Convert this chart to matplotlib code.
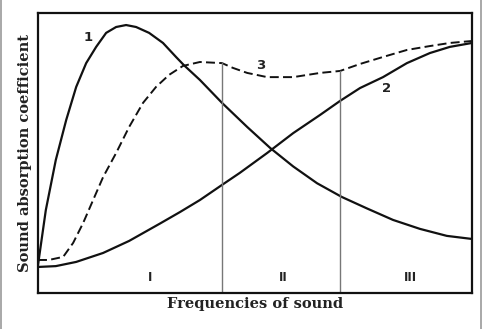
import numpy as np
import matplotlib.pyplot as plt
from matplotlib.lines import Line2D

# frequency axis is arbitrary (0..10), absorption coefficient 0..1
freq_1 = [0, 0.18, 0.41, 0.65, 0.88, 1.11, 1.34, 1.57, 1.80, 2.03, 2.26, 2.56, 2.88, 3.18,
          3.36, 3.73, 4.24, 4.82, 5.35, 5.88, 6.43, 7.00, 7.58, 8.18, 8.80, 9.42, 10]
alpha_1 = [0.10, 0.296, 0.475, 0.618, 0.736, 0.821, 0.879, 0.929, 0.95, 0.957, 0.95, 0.929, 0.893, 0.843,
           0.814, 0.761, 0.679, 0.593, 0.518, 0.452, 0.392, 0.343, 0.302, 0.261, 0.229, 0.204, 0.193]

freq_2 = [0, 0.41, 0.88, 1.50, 2.10, 2.81, 3.27, 3.73, 4.24, 4.65, 5.28, 5.88, 6.50, 6.96,
          7.42, 7.95, 8.50, 9.03, 9.49, 10]
alpha_2 = [0.093, 0.096, 0.111, 0.143, 0.186, 0.248, 0.289, 0.332, 0.386, 0.429, 0.50, 0.571, 0.636, 0.686,
           0.732, 0.771, 0.821, 0.857, 0.879, 0.893]

freq_3 = [0, 0.25, 0.58, 0.81, 1.04, 1.27, 1.50, 1.80, 2.10, 2.42, 2.72, 3.02, 3.34, 3.73,
          4.24, 4.49, 4.82, 5.28, 5.88, 6.50, 6.96, 7.42, 7.95, 8.50, 9.03, 9.49, 10]
alpha_3 = [0.118, 0.118, 0.129, 0.179, 0.25, 0.332, 0.414, 0.50, 0.593, 0.679, 0.736, 0.779, 0.811, 0.825,
           0.821, 0.804, 0.786, 0.771, 0.771, 0.786, 0.793, 0.818, 0.843, 0.868, 0.882, 0.893, 0.90]

# region borders (frequency, top of the line on curve 3)
border_freq = [4.24, 6.96]
border_top = [0.821, 0.793]

region_labels = ["I", "II", "III"]
region_pos = [2.58, 5.65, 8.57]

curve_labels = ["1", "2", "3"]
curve_label_pos = [(1.15, 0.914), (8.04, 0.732), (5.12, 0.814)]

plt.rcParams['font.family'] = ['DejaVu Serif']

fig = plt.figure(figsize=(4.83, 3.29), dpi=100)
ax = fig.add_axes([38 / 483, 36 / 329, 434 / 483, 280 / 329])

ax.plot(freq_1, alpha_1, color="#111111", lw=1.6, solid_joinstyle="round")
ax.plot(freq_2, alpha_2, color="#111111", lw=1.6, solid_joinstyle="round")
ax.plot(freq_3, alpha_3, color="#111111", lw=1.4, dashes=(4.6, 2.2))

for x, top in zip(border_freq, border_top):
    ax.plot([x, x], [0, top], color="#777777", lw=1.0)

for lab, x in zip(region_labels, region_pos):
    ax.text(x, 0.054, lab, ha="center", va="center", fontsize=8.5,
            fontweight="bold", family="DejaVu Sans", color="#222222")

for lab, (x, y) in zip(curve_labels, curve_label_pos):
    ax.text(x, y, lab, ha="center", va="center", fontsize=9.5,
            fontweight="bold", family="DejaVu Sans", color="#222222")

ax.set_xlim(0, 10)
ax.set_ylim(0, 1)
ax.set_xticks([])
ax.set_yticks([])
for s in ax.spines.values():
    s.set_linewidth(1.6)
    s.set_color("#111111")

ax.set_xlabel("Frequencies of sound", fontsize=10.5, fontweight="bold", labelpad=3, color="#222222")
ax.set_ylabel("Sound absorption coefficient", fontsize=10.5, fontweight="bold", labelpad=4, color="#222222")

# thin frame edges of the original picture
fig.add_artist(Line2D([1 / 483, 1 / 483], [0, 1], color="#999999", lw=1.2))
fig.add_artist(Line2D([481 / 483, 481 / 483], [0, 1], color="#999999", lw=1.2))

fig.savefig("out.png", dpi=100, facecolor="white")
